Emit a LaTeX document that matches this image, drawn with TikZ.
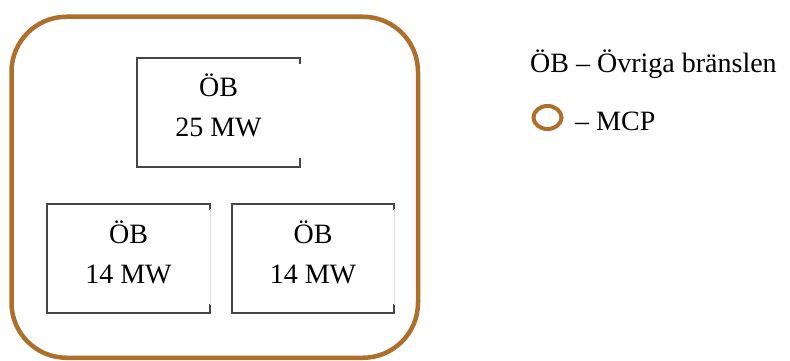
\documentclass[tikz,border=0pt]{standalone}
\usepackage{fontspec}
\setmainfont{Liberation Serif}
\usepackage{xcolor}
\usepackage{tikz}
\usetikzlibrary{shapes.geometric}
\definecolor{mcpbrown}{RGB}{173,111,43}
\definecolor{boxgray}{RGB}{70,70,70}
\tikzset{mcpframe/.style={draw=mcpbrown,line width=4.5pt,rounded corners=55pt,inner sep=0pt,outer sep=0pt},
  fuelframe/.style={inner sep=0pt,outer sep=0pt},
  fueltext/.style={align=center,font=\fontsize{28}{40}\selectfont,inner sep=0pt},
  boxline/.style={draw=boxgray,line width=1.4pt,line cap=rect},
  faintline/.style={draw=gray!25,line width=1pt},
  legendtext/.style={font=\fontsize{28}{34}\selectfont,inner sep=0pt},
  mcpkey/.style={draw=mcpbrown,line width=4pt,ellipse,minimum width=28pt,minimum height=23pt,inner sep=0pt}}

\begin{document}
\begin{tikzpicture}[x=1pt,y=-1pt]
    \useasboundingbox (0,0) rectangle (790,361);
    \node[mcpframe,minimum width=406.5pt,minimum height=341pt] (mcp) at (214.75,187.25) {};

    % fuel boxes
    \node[fuelframe,minimum width=163pt,minimum height=109pt] (ob25) at (218.5,112.5) {};
    \node[fuelframe,minimum width=163pt,minimum height=109pt] (ob14a) at (128.5,258.5) {};
    \node[fuelframe,minimum width=162pt,minimum height=109pt] (ob14b) at (313,258.5) {};
    \node[fueltext] (ob25text) at ([yshift=7pt]ob25.center) {ÖB\\25 MW};
    \node[fueltext] (ob14atext) at ([yshift=6pt]ob14a.center) {ÖB\\14 MW};
    \node[fueltext] (ob14btext) at ([yshift=6pt]ob14b.center) {ÖB\\14 MW};

    \foreach \b in {ob25,ob14a,ob14b} {
      \draw[boxline] (\b.north east) -- (\b.north west) -- (\b.south west) -- (\b.south east);
      \draw[boxline] (\b.north east) -- ++(0,5);
      \draw[boxline] (\b.south east) -- ++(0,-8);
    }
    \draw[faintline] ([yshift=-5pt]ob14a.north east) -- ([yshift=8pt]ob14a.south east);
    \draw[faintline] ([yshift=-5pt]ob14b.north east) -- ([yshift=8pt]ob14b.south east);

    % legend
    \node[legendtext,anchor=base west] (obkey) at (530,73) {ÖB – Övriga bränslen};
    \node[mcpkey] (mcpkey) at (547.5,117.5) {};
    \node[legendtext,anchor=base west] (mcpkeytext) at (575,130) {– MCP};
  \end{tikzpicture}
\end{document}
